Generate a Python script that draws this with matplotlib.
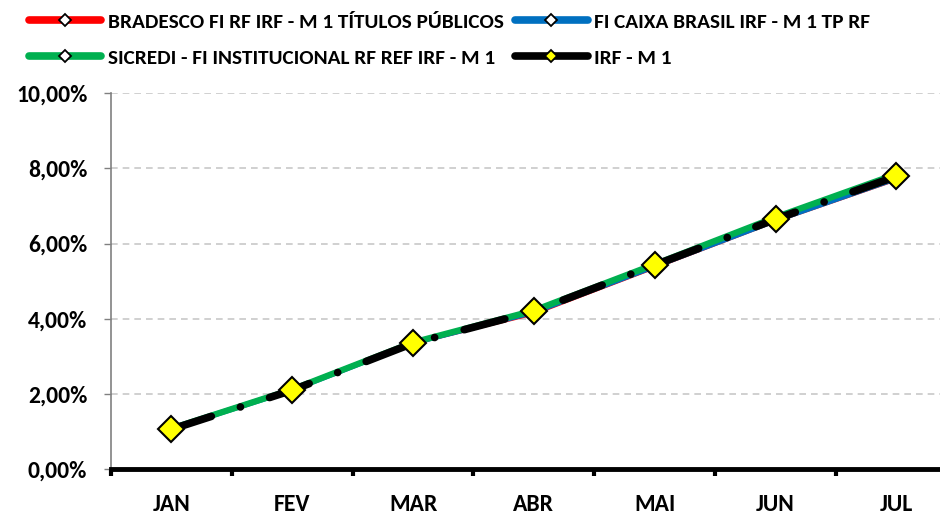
import matplotlib.pyplot as plt
from matplotlib.lines import Line2D
from matplotlib.ticker import FuncFormatter, FixedLocator
import numpy as np

months = ["JAN", "FEV", "MAR", "ABR", "MAI", "JUN", "JUL"]
bradesco = [1.05, 2.09, 3.33, 4.12, 5.35, 6.58, 7.69]
caixa = [1.08, 2.11, 3.36, 4.18, 5.40, 6.62, 7.74]
sicredi = [1.08, 2.12, 3.37, 4.22, 5.45, 6.70, 7.85]
irf_m1 = [1.06, 2.10, 3.35, 4.20, 5.43, 6.65, 7.79]

labels = ["BRADESCO FI RF IRF - M 1 TÍTULOS PÚBLICOS",
          "FI CAIXA BRASIL IRF - M 1 TP RF",
          "SICREDI - FI INSTITUCIONAL RF REF IRF - M 1",
          "IRF - M 1"]

plt.rcParams['font.family'] = ['Carlito', 'Lato', 'DejaVu Sans']
plt.rcParams['font.weight'] = 'bold'

fig = plt.figure(figsize=(9.4, 5.15), dpi=100)
ax = fig.add_axes([0.118, 0.089, 0.9, 0.73])
x = np.arange(len(months))

ax.plot(x, bradesco, color="#ff0000", lw=1.8, zorder=3)
ax.plot(x, caixa, color="#0070c0", lw=4, zorder=4)
ax.plot(x, sicredi, color="#00b050", lw=4.5, zorder=5)
ax.plot(x, irf_m1, color="black", lw=5.5, linestyle=(0, (5.5, 4, 0.01, 4)),
        dash_capstyle="round", zorder=6)
ax.plot(x, irf_m1, linestyle="none", marker="D", ms=13, mfc="#ffff00",
        mec="black", mew=1.5, zorder=7)

ax.set_xlim(-0.5, 6.5)
ax.set_ylim(0, 10)
ax.set_yticks(np.arange(0, 10.1, 2))
ax.yaxis.set_major_formatter(FuncFormatter(lambda v, p: f"{v:.2f}%".replace(".", ",")))
ax.yaxis.grid(True, linestyle=(0, (4, 3)), color="#c8c8c8", lw=1.2)
ax.set_axisbelow(True)

ax.set_xticks(x)
ax.set_xticklabels(months, fontsize=17, fontweight="bold")
ax.tick_params(axis="x", which="major", length=0, pad=18)
ax.xaxis.set_minor_locator(FixedLocator(np.arange(-0.5, 7, 1)))
ax.tick_params(axis="x", which="minor", length=5, width=3, color="black", direction="out")
ax.tick_params(axis="y", labelsize=17, length=5, color="#808080", width=1, pad=12)
for t in ax.get_yticklabels():
    t.set_fontweight("bold")

for s in ["top", "right"]:
    ax.spines[s].set_visible(False)
ax.spines["left"].set_color("#808080")
ax.spines["left"].set_linewidth(1.2)
ax.spines["bottom"].set_color("black")
ax.spines["bottom"].set_linewidth(3.5)

def handle(c, mfc):
    return Line2D([], [], color=c, lw=5.5, solid_capstyle="round", marker="D",
                  ms=6, mfc=mfc, mec="black", mew=1.3)

# column-wise fill: order so rows read bradesco|caixa, sicredi|irf
order = [0, 2, 1, 3]
hs = [handle("#ff0000", "white"), handle("#0070c0", "white"),
      handle("#00b050", "white"), handle("black", "#ffff00")]
fig.legend([hs[i] for i in order], [labels[i] for i in order],
           loc="upper left", bbox_to_anchor=(0.031, 0.975), ncol=2,
           frameon=False, handlelength=3.4, handletextpad=0.3,
           columnspacing=0.55, labelspacing=0.85, borderpad=0, borderaxespad=0,
           prop={"weight": "bold", "size": 15.3})

fig.savefig("out.png", dpi=100)
